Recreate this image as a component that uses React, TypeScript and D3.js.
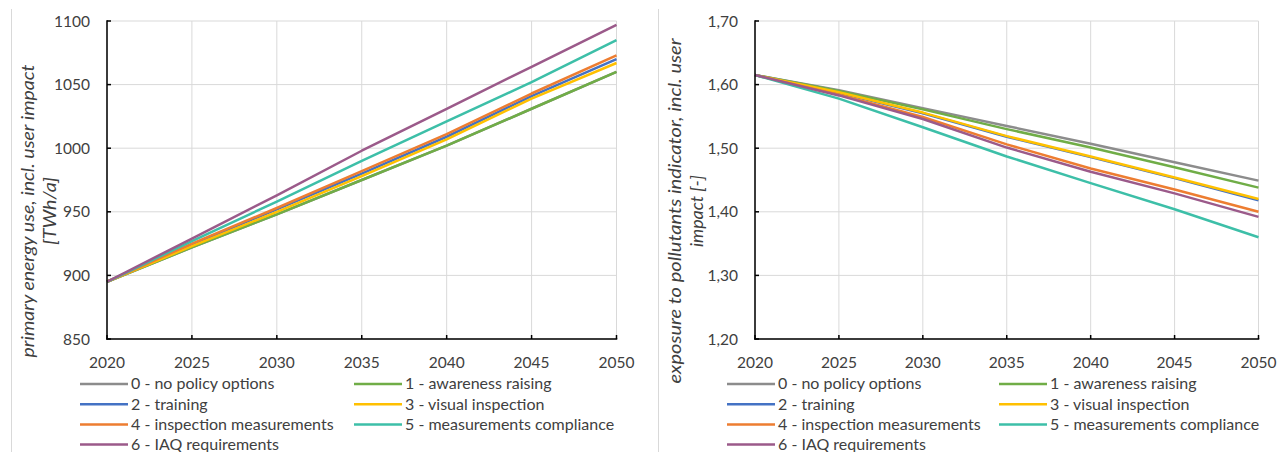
import React from "react";
import * as d3 from "d3";

const years = [2020, 2025, 2030, 2035, 2040, 2045, 2050];
const xTicks = [2020, 2025, 2030, 2035, 2040, 2045, 2050];

const seriesNames = [
  "0 - no policy options",
  "1 - awareness raising",
  "2 - training",
  "3 - visual inspection",
  "4 - inspection measurements",
  "5 - measurements compliance",
  "6 - IAQ requirements",
];
const seriesColors = ["#8c8c8c", "#70ad47", "#4472c4", "#ffc000", "#ed7d31", "#3dbfa8", "#9b5a8a"];

// Left chart: primary energy use [TWh/a]
const energy0 = [895, 922, 948, 975, 1002, 1031, 1060];
const energy1 = [895, 922, 948, 975, 1002, 1031, 1060];
const energy2 = [895, 924, 952, 980, 1009, 1041, 1070];
const energy3 = [895, 923, 950, 978, 1007, 1039, 1067];
const energy4 = [895, 925, 953, 982, 1011, 1043, 1073];
const energy5 = [895, 927, 958, 990, 1021, 1052, 1085];
const energy6 = [895, 929, 963, 998, 1031, 1064, 1097];
const energyTicks = [850, 900, 950, 1000, 1050, 1100];

// Right chart: exposure to pollutants indicator [-]
const expo0 = [1.615, 1.591, 1.563, 1.535, 1.507, 1.478, 1.449];
const expo1 = [1.615, 1.590, 1.561, 1.530, 1.501, 1.470, 1.438];
const expo2 = [1.615, 1.587, 1.555, 1.518, 1.486, 1.453, 1.418];
const expo3 = [1.615, 1.588, 1.556, 1.519, 1.487, 1.454, 1.420];
const expo4 = [1.615, 1.584, 1.549, 1.506, 1.468, 1.435, 1.400];
const expo5 = [1.615, 1.578, 1.533, 1.487, 1.445, 1.404, 1.360];
const expo6 = [1.615, 1.583, 1.546, 1.501, 1.463, 1.429, 1.392];
const expoTicks = [1.2, 1.3, 1.4, 1.5, 1.6, 1.7];

const FONT = "Lato, 'Open Sans', sans-serif";
const TEXT = "#404040";

type ChartProps = {
  borderX: number;
  axisX: number;
  plotRight: number;
  series: number[][];
  yDomain: [number, number];
  yTicks: number[];
  yFormat: (v: number) => string;
  title1: string;
  title2: string;
  t1len: number;
  t2len: number;
  t1x: number;
  t2x: number;
  legend: { lineX: number; col2X: number };
};

function Chart(p: ChartProps) {
  const top = 21;
  const bottom = 339;
  const x = d3.scaleLinear().domain([2020, 2050]).range([p.axisX, p.plotRight]);
  const y = d3.scaleLinear().domain(p.yDomain).range([bottom, top]);
  const line = d3
    .line<number>()
    .x((_, i) => x(years[i]))
    .y((d) => y(d));
  const rows = [384, 404.3, 424.6, 444.5];
  const legendItems = seriesNames.map((n, i) => ({
    name: n,
    color: seriesColors[i],
    lx: i % 2 === 0 ? p.legend.lineX : p.legend.col2X,
    ly: rows[Math.floor(i / 2)],
  }));
  const tcy = 211;
  return (
    <g>
      <line x1={p.borderX} x2={p.borderX} y1={9} y2={452} stroke="#d9d9d9" strokeWidth={1} />
      {p.yTicks.map((t) => (
        <line key={"gy" + t} x1={p.axisX} x2={p.plotRight} y1={y(t)} y2={y(t)} stroke="#d9d9d9" strokeWidth={1} />
      ))}
      {xTicks.map((t) => (
        <line key={"gx" + t} x1={x(t)} x2={x(t)} y1={top} y2={bottom} stroke="#d9d9d9" strokeWidth={1} />
      ))}
      {p.series.map((s, i) => (
        <path key={"s" + i} d={line(s) || ""} fill="none" stroke={seriesColors[i]} strokeWidth={2.5} strokeLinejoin="round" />
      ))}
      <line x1={p.axisX} x2={p.axisX} y1={top - 0.75} y2={bottom + 0.75} stroke="#000" strokeWidth={1.5} />
      <line x1={p.axisX - 0.75} x2={p.plotRight + 0.75} y1={bottom} y2={bottom} stroke="#000" strokeWidth={1.5} />
      {p.yTicks.map((t) => (
        <line key={"ty" + t} x1={p.axisX} x2={p.axisX + 4} y1={y(t)} y2={y(t)} stroke="#000" strokeWidth={1.5} />
      ))}
      {xTicks.map((t) => (
        <line key={"tx" + t} x1={x(t)} x2={x(t)} y1={bottom} y2={bottom - 4} stroke="#000" strokeWidth={1.5} />
      ))}
      {p.yTicks.map((t) => (
        <text key={"ly" + t} x={p.axisX - 17} y={y(t) + 5.5} textAnchor="end" fontSize={15.5} fill={TEXT} fontFamily={FONT}>
          {p.yFormat(t)}
        </text>
      ))}
      {xTicks.map((t) => (
        <text key={"lx" + t} x={x(t)} y={368} textAnchor="middle" fontSize={15.5} fill={TEXT} fontFamily={FONT}>
          {t}
        </text>
      ))}
      <text
        transform={`translate(${p.t1x},${tcy}) rotate(-90)`}
        textAnchor="middle"
        fontSize={16.5}
        fontStyle="italic"
        fill={TEXT}
        fontFamily={FONT}
        dominantBaseline="central"
        textLength={p.t1len}
        lengthAdjust="spacingAndGlyphs"
      >
        {p.title1}
      </text>
      <text
        transform={`translate(${p.t2x},${tcy}) rotate(-90)`}
        textAnchor="middle"
        fontSize={16.5}
        fontStyle="italic"
        fill={TEXT}
        fontFamily={FONT}
        dominantBaseline="central"
        textLength={p.t2len}
        lengthAdjust="spacingAndGlyphs"
      >
        {p.title2}
      </text>
      {legendItems.map((it) => (
        <g key={it.name}>
          <line x1={it.lx} x2={it.lx + 48} y1={it.ly} y2={it.ly} stroke={it.color} strokeWidth={2.5} />
          <text x={it.lx + 51} y={it.ly + 5.3} fontSize={16} fill={TEXT} fontFamily={FONT}>
            {it.name}
          </text>
        </g>
      ))}
    </g>
  );
}

export default function App() {
  const fmtComma = (v: number) => d3.format(".2f")(v).replace(".", ",");
  return (
    <svg width={1278} height={452} style={{ position: "absolute", left: 0, top: 0, background: "#fff" }}>
      <rect width={1278} height={452} fill="#fff" />
      <Chart
        borderX={11.5}
        axisX={107}
        plotRight={616.5}
        series={[energy0, energy1, energy2, energy3, energy4, energy5, energy6]}
        yDomain={[850, 1100]}
        yTicks={energyTicks}
        yFormat={(v) => String(v)}
        title1="primary energy use, incl. user impact"
        title2="[TWh/a]"
        t1len={293}
        t2len={68}
        t1x={28}
        t2x={50}
        legend={{ lineX: 80, col2X: 354 }}
      />
      <Chart
        borderX={658.5}
        axisX={755}
        plotRight={1258.5}
        series={[expo0, expo1, expo2, expo3, expo4, expo5, expo6]}
        yDomain={[1.2, 1.7]}
        yTicks={expoTicks}
        yFormat={fmtComma}
        title1="exposure to pollutants indicator, incl. user"
        title2="impact [-]"
        t1len={345}
        t2len={72}
        t1x={675}
        t2x={697}
        legend={{ lineX: 727, col2X: 999 }}
      />
    </svg>
  );
}
